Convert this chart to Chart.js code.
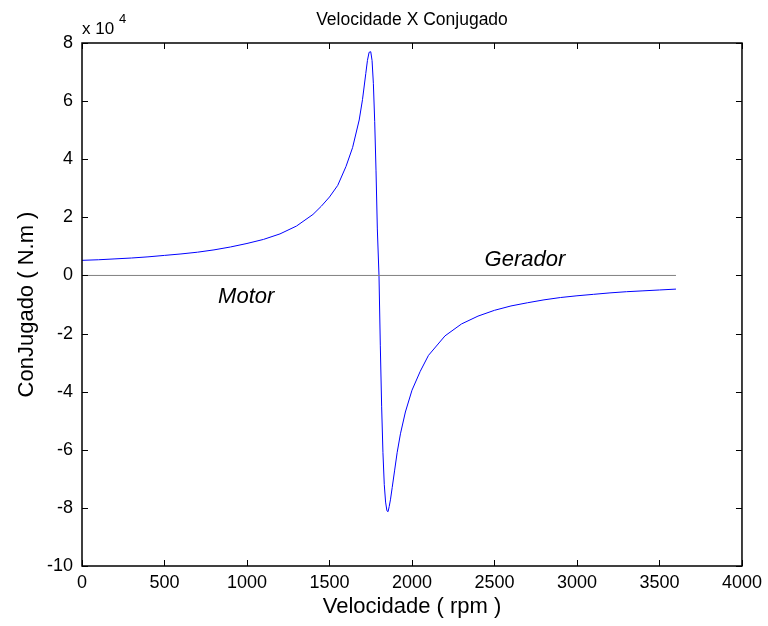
<!DOCTYPE html>
<html>
<head>
<meta charset="utf-8">
<script src="https://cdn.jsdelivr.net/npm/chart.js@4.4.0/dist/chart.umd.min.js"></script>
<style>
	html, body { margin: 0; padding: 0; background: #fff; }
	#box { width: 768px; height: 626px; }
</style>
</head>
<body>
<div id="box"><canvas id="mycanvas" width="768" height="626"></canvas></div>
<script>
// velocidade (rpm) e conjugado (N.m)
var speed = [0, 100, 200, 300, 400, 500, 600, 700, 800, 900, 1000, 1100, 1200, 1300, 1400, 1450, 1500, 1550, 1600, 1640, 1680, 1700, 1720, 1730, 1740, 1750, 1758, 1766, 1774, 1782, 1790, 1800,
	1808, 1816, 1824, 1832, 1840, 1848, 1855, 1862, 1870, 1880, 1895, 1910, 1930, 1960, 2000, 2050, 2100, 2200, 2300, 2400, 2500, 2600, 2700, 2800, 2900, 3000, 3100, 3200, 3300, 3400, 3500, 3600];
var torque = [5200, 5400, 5700, 6000, 6400, 6900, 7400, 8000, 8800, 9800, 11000, 12400, 14300, 17000, 21000, 23800, 27000, 31000, 37500, 44000, 53500, 60500, 69500, 74000, 76800, 77000, 74000, 66000, 53000, 36000, 16000, 0,
	-24000, -45000, -61000, -72000, -78000, -81000, -81300, -79500, -77000, -73000, -67000, -61000, -54500, -47000, -39500, -33000, -27500, -20800, -16700, -14000, -12000, -10500, -9400, -8400, -7600, -7000, -6500, -6000, -5600, -5300, -5000, -4700];

// linha de referencia em zero
var zeroX = [0, 3600];
var zeroY = [0, 0];

var xTicks = [0, 500, 1000, 1500, 2000, 2500, 3000, 3500, 4000];
var yTicks = [-10, -8, -6, -4, -2, 0, 2, 4, 6, 8]; // x 10^4

var FONT = "'Liberation Sans', Arial, sans-serif";

function pts(xs, ys){
	var out = [];
	for (var i in xs) out.push({x: xs[i], y: ys[i]});
	return out;
}

var matlabBox = {
	id: 'matlabBox',
	afterDraw: function(chart){
		var ctx = chart.ctx, a = chart.chartArea;
		var sx = chart.scales.x, sy = chart.scales.y;
		ctx.save();
		ctx.strokeStyle = '#000';
		ctx.lineWidth = 1;
		// ticks inward on all sides
		ctx.beginPath();
		xTicks.forEach(function(v){
			var px = Math.round(sx.getPixelForValue(v)) + 0.5;
			ctx.moveTo(px, a.bottom); ctx.lineTo(px, a.bottom - 6);
			ctx.moveTo(px, a.top); ctx.lineTo(px, a.top + 6);
		});
		yTicks.forEach(function(v){
			var py = Math.round(sy.getPixelForValue(v * 1e4)) + 0.5;
			ctx.moveTo(a.left, py); ctx.lineTo(a.left + 6, py);
			ctx.moveTo(a.right, py); ctx.lineTo(a.right - 6, py);
		});
		ctx.stroke();
		ctx.lineWidth = 1.5;
		ctx.strokeRect(a.left, a.top, a.right - a.left, a.bottom - a.top);

		// texts
		ctx.fillStyle = '#000';
		ctx.textBaseline = 'alphabetic';
		ctx.textAlign = 'center';
		ctx.font = '17.5px ' + FONT;
		ctx.fillText('Velocidade X Conjugado', (a.left + a.right) / 2, 25);
		ctx.textAlign = 'left';
		ctx.font = '17px ' + FONT;
		ctx.fillText('x 10', a.left, 34);
		ctx.font = '13px ' + FONT;
		ctx.fillText('4', a.left + 37, 23);
		ctx.font = 'italic 22px ' + FONT;
		ctx.fillText('Gerador', sx.getPixelForValue(2440), sy.getPixelForValue(0) - 9);
		ctx.fillText('Motor', sx.getPixelForValue(825), sy.getPixelForValue(0) + 28);
		ctx.restore();
	}
};

var ctx = document.getElementById('mycanvas');
var chart = new Chart(ctx, {
	type: 'line',
	data: {
		datasets: [
			{
				label: 'zero',
				data: pts(zeroX, zeroY),
				borderColor: '#808080',
				borderWidth: 1,
				pointRadius: 0,
				fill: false
			},
			{
				label: 'Conjugado',
				data: pts(speed, torque),
				borderColor: '#0000ff',
				borderWidth: 1,
				pointRadius: 0,
				lineTension: 0,
				fill: false
			}
		]
	},
	plugins: [matlabBox],
	options: {
		responsive: false,
		animation: false,
		layout: { padding: { left: 0, right: 23, top: 43, bottom: 0 } },
		plugins: { legend: { display: false }, tooltip: { enabled: false }, title: { display: false } },
		scales: {
			x: {
				type: 'linear',
				min: 0, max: 4000,
				afterFit: function(s){ s.height = 60; },
				afterBuildTicks: function(s){ s.ticks = xTicks.map(function(v){ return {value: v}; }); },
				grid: { display: false, drawTicks: false },
				border: { display: false },
				ticks: { color: '#000', padding: 6, maxRotation: 0, font: { family: FONT, size: 18 }, callback: function(v){ return String(v); } },
				title: { display: true, text: 'Velocidade ( rpm )', color: '#000', padding: { top: 0, bottom: 6 }, font: { family: FONT, size: 22 } }
			},
			y: {
				min: -100000, max: 80000,
				afterFit: function(s){ s.width = 82; },
				afterBuildTicks: function(s){ s.ticks = yTicks.map(function(v){ return {value: v * 1e4}; }); },
				grid: { display: false, drawTicks: false },
				border: { display: false },
				ticks: { color: '#000', padding: 9, font: { family: FONT, size: 18 }, callback: function(v){ return String(v / 1e4); } },
				title: { display: true, text: 'ConJugado ( N.m )', color: '#000', padding: { top: 14, bottom: 0 }, font: { family: FONT, size: 22 } }
			}
		}
	}
});
</script>
</body>
</html>
